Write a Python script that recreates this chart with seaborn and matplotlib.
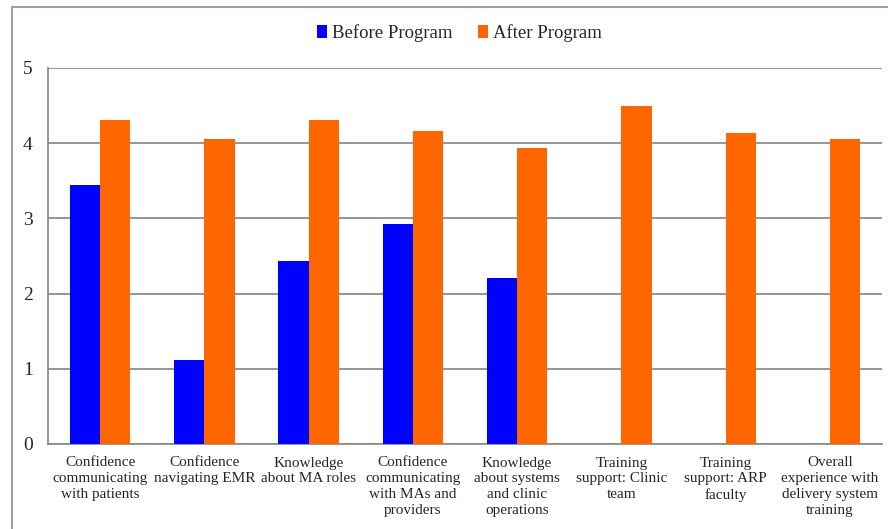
import matplotlib
matplotlib.use("Agg")
import matplotlib.pyplot as plt
from matplotlib.lines import Line2D
from matplotlib.ticker import FixedLocator
import seaborn as sns
import pandas as pd

# valori
categories = [
    "Confidence\ncommunicating\nwith patients",
    "Confidence\nnavigating EMR",
    "Knowledge\nabout MA roles",
    "Confidence\ncommunicating\nwith MAs and\nproviders",
    "Knowledge\nabout systems\nand clinic\noperations",
    "Training\nsupport: Clinic\nteam",
    "Training\nsupport: ARP\nfaculty",
    "Overall\nexperience with\ndelivery system\ntraining",
]
before = [3.44, 1.12, 2.44, 2.93, 2.21, None, None, None]
after = [4.31, 4.06, 4.31, 4.16, 3.94, 4.50, 4.14, 4.06]
series = ["Before Program", "After Program"]
colors = ["#0000FF", "#FF6600"]

df = pd.DataFrame({
    "category": categories * 2,
    "group": [series[0]] * len(categories) + [series[1]] * len(categories),
    "value": before + after,
})

sns.set_style("white")
plt.rcParams["font.family"] = ["Liberation Serif"]

fig = plt.figure(figsize=(8.88, 5.29), dpi=100)
ax = fig.add_axes([48 / 888, 1 - 444 / 529, 834 / 888, 376 / 529])

sns.barplot(data=df, x="category", y="value", hue="group", palette=colors,
            width=0.58, saturation=1, linewidth=0, ax=ax, zorder=3)

ax.set_ylim(0, 5)
ax.set_xlim(-0.5, len(categories) - 0.5)
ax.set_yticks(range(0, 6))
ax.yaxis.grid(True, color="#8c8c8c", linewidth=1.3, zorder=0)
ax.set_axisbelow(True)
for s in ["top", "right"]:
    ax.spines[s].set_visible(False)
for s in ["left", "bottom"]:
    ax.spines[s].set_color("#8c8c8c")
    ax.spines[s].set_linewidth(1.3)
ax.set_xlabel("")
ax.set_ylabel("")
ax.set_xticks(range(len(categories)))
ax.set_xticklabels(categories, linespacing=1.27, fontsize=11)
ax.tick_params(axis="x", which="major", length=0, pad=9)
ax.tick_params(axis="y", which="major", length=5, color="#8c8c8c",
               width=1.3, labelsize=14, pad=6)
ax.xaxis.set_minor_locator(FixedLocator([i - 0.5 for i in range(len(categories) + 1)]))
ax.tick_params(axis="x", which="minor", length=5, color="#8c8c8c", width=1.3)

ax.legend(loc="center", bbox_to_anchor=(459.5 / 888, 1 - 33 / 529), bbox_transform=fig.transFigure,
          ncol=2, frameon=False, fontsize=13.5, handlelength=0.55, handleheight=0.75,
          handletextpad=0.25, columnspacing=1.35)

# bordo della figura
fig.add_artist(Line2D([12 / 888, 12 / 888], [0, 1 - 7 / 529], color="#a0a0a0", lw=1.5,
                      transform=fig.transFigure))
fig.add_artist(Line2D([12 / 888, 1], [1 - 7 / 529, 1 - 7 / 529], color="#a0a0a0", lw=1.5,
                      transform=fig.transFigure))

fig.savefig("out.png", dpi=100)
